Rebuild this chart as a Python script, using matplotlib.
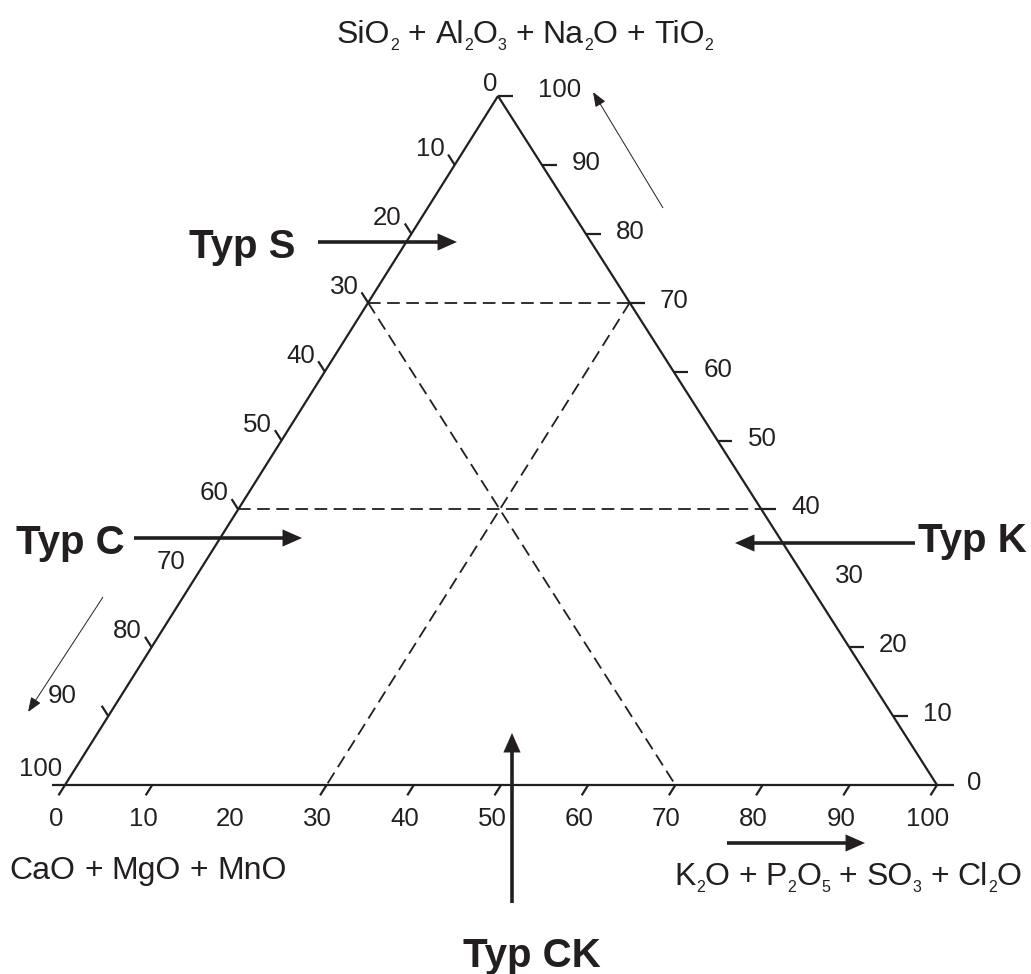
import re
import numpy as np
import matplotlib
matplotlib.use("Agg")
import matplotlib.pyplot as plt
from matplotlib.transforms import Affine2D
from matplotlib.patches import FancyArrowPatch, ArrowStyle
from matplotlib.font_manager import FontProperties

FAMILY = ['Liberation Sans', 'DejaVu Sans']
plt.rcParams['font.family'] = FAMILY
plt.rcParams['mathtext.default'] = 'regular'

# ---------------- data ----------------
tick_values = list(range(0, 101, 10))
tick_labels = [str(v) for v in tick_values]
left_tick_marks = [10, 20, 30, 40, 50, 60, 80, 90]          # CaO side (K = 0)
right_tick_marks = [10, 20, 40, 50, 60, 70, 80, 90, 100]     # SiO2 side (C = 0)
bottom_tick_marks = [0, 10, 30, 40, 50, 60, 70, 80, 90, 100] # K2O side (S = 0)
boundary_S = [70, 40]   # SiO2 = const
boundary_C = [30]       # CaO = const
boundary_K = [30]       # K2O = const
apex_title = 'SiO$_2$ + Al$_2$O$_3$ + Na$_2$O + TiO$_2$'
left_title = 'CaO + MgO + MnO'
right_title = 'K$_2$O + P$_2$O$_5$ + SO$_3$ + Cl$_2$O'
type_names = ['Typ S', 'Typ C', 'Typ K', 'Typ CK']

# ---------------- layout ----------------
W, H = 1031, 974
TOP = (498.0, 96.0)
LEFT = (65.0, 785.0)
RIGHT = (937.0, 785.0)
INK = '#231f20'

fig = plt.figure(figsize=(W / 100, H / 100), dpi=100)
ax = fig.add_axes([0, 0, 1, 1])
ax.set_xlim(0, W)
ax.set_ylim(H, 0)
ax.axis('off')

# ternary (K, S) in percent -> pixel coordinates
tern = Affine2D(np.array([
    [(RIGHT[0] - LEFT[0]) / 100, (TOP[0] - LEFT[0]) / 100, LEFT[0]],
    [(RIGHT[1] - LEFT[1]) / 100, (TOP[1] - LEFT[1]) / 100, LEFT[1]],
    [0, 0, 1]])) + ax.transData


def P(S, C, K):
    return (K, S)


def tline(pts, **kw):
    ks = [p[0] for p in pts]
    ss = [p[1] for p in pts]
    ax.plot(ks, ss, transform=tern, **kw)


edge_kw = dict(color=INK, lw=1.6, solid_capstyle='butt')
# triangle edges
tline([P(0, 101.5, -1.5), P(0, -2.0, 102.0)], **edge_kw)          # base (slightly extended)
tline([P(0, 100, 0), P(100, 0, 0)], **edge_kw)
tline([P(0, 0, 100), P(100, 0, 0)], **edge_kw)

# ticks
tl = 1.5
for v in left_tick_marks:
    tline([P(100 - v, v, 0), P(100 - v + tl, v, -tl)], **edge_kw)
for v in right_tick_marks:
    tline([P(v, 0, 100 - v), P(v, -1.7, 100 - v + 1.7)], **edge_kw)
for v in bottom_tick_marks:
    tline([P(0, 100 - v, v), P(-tl, 100 - v + tl, v)], **edge_kw)

# dashed boundary lines
dash_kw = dict(color=INK, lw=1.3, linestyle=(0, (7, 3.6)))
for s in boundary_S:
    tline([P(s, 100 - s, 0), P(s, 0, 100 - s)], **dash_kw)
for c in boundary_C:
    tline([P(100 - c, c, 0), P(0, c, 100 - c)], **dash_kw)
for k in boundary_K:
    tline([P(100 - k, 0, k), P(0, 100 - k, k)], **dash_kw)

# tick labels
num_fs = 18.6
def tlabel(txt, pt, dx, dy, ha):
    ax.annotate(txt, xy=pt, xycoords=tern, xytext=(dx, -dy),
                textcoords='offset pixels', ha=ha, va='baseline',
                fontsize=num_fs, color=INK)

left_special = {0: (-8, -5), 90: (-46, -13)}
for v, lab in zip(tick_values, tick_labels):
    dx, dy = left_special.get(v, (-24, -9))
    tlabel(lab, P(100 - v, v, 0), dx, dy, 'center')
for v, lab in zip(tick_values, tick_labels):
    dx, dy = (40, 1) if v == 100 else (30, 5)
    tlabel(lab, P(v, 0, 100 - v), dx, dy, 'left')
for v, lab in zip(tick_values, tick_labels):
    tlabel(lab, P(0, 100 - v, v), -9, 41, 'center')


# axis titles with small, dropped subscripts
renderer = fig.canvas.get_renderer()


def chem(xc, yb, label, fs, sub_fs, drop):
    fp = FontProperties(family=FAMILY, size=fs)
    sp = FontProperties(family=FAMILY, size=sub_fs)

    def w(s, prop):
        return renderer.get_text_width_height_descent(s, prop, ismath=False)[0]

    space = w('x x', fp) - w('xx', fp)
    layout, x = [], 0.0
    for ti, tok in enumerate(label.split(' ')):
        if ti:
            x += space
        parts = re.split(r'\$_(\w+)\$', tok)
        for pi, s in enumerate(parts):
            if not s:
                continue
            sub = pi % 2 == 1
            layout.append((x, s, sub))
            x += w(s, sp if sub else fp)
    total = x
    for x0, s, sub in layout:
        ax.annotate(s, xy=(xc, yb), xycoords='data',
                    xytext=(x0 - total / 2, -drop if sub else 0),
                    textcoords='offset pixels', ha='left', va='baseline',
                    fontsize=sub_fs if sub else fs, color=INK)


chem(525, 43, apex_title, 23, 11.5, 7)
chem(148, 879, left_title, 23, 11.5, 7)
chem(848, 885, right_title, 23, 11.5, 7)

# type labels
type_pos = [(242, 258), (70, 554), (972, 552), (532, 967)]
for name, (x, y) in zip(type_names, type_pos):
    ax.text(x, y, name, ha='center', va='baseline', fontsize=29,
            fontweight='bold', color=INK)


def arrow(a, b, lw, hl, hw):
    st = ArrowStyle('-|>', head_length=hl, head_width=hw)
    ax.add_patch(FancyArrowPatch(a, b, arrowstyle=st, mutation_scale=1,
                                 lw=lw, color=INK, shrinkA=0, shrinkB=0,
                                 joinstyle='miter', capstyle='butt'))

# thick arrows
for a, b in [((318, 242), (457, 242)), ((134, 538), (302, 538)),
             ((915, 543), (735, 543)), ((512, 903), (512, 733)),
             ((727, 843), (865, 843))]:
    arrow(a, b, 2.6, 9.5, 4.2)
# thin direction arrows
for a, b in [((663, 208), (593, 92)), ((103, 597), (28, 712))]:
    arrow(a, b, 0.7, 9, 3.5)

fig.savefig('out.png', dpi=100)
